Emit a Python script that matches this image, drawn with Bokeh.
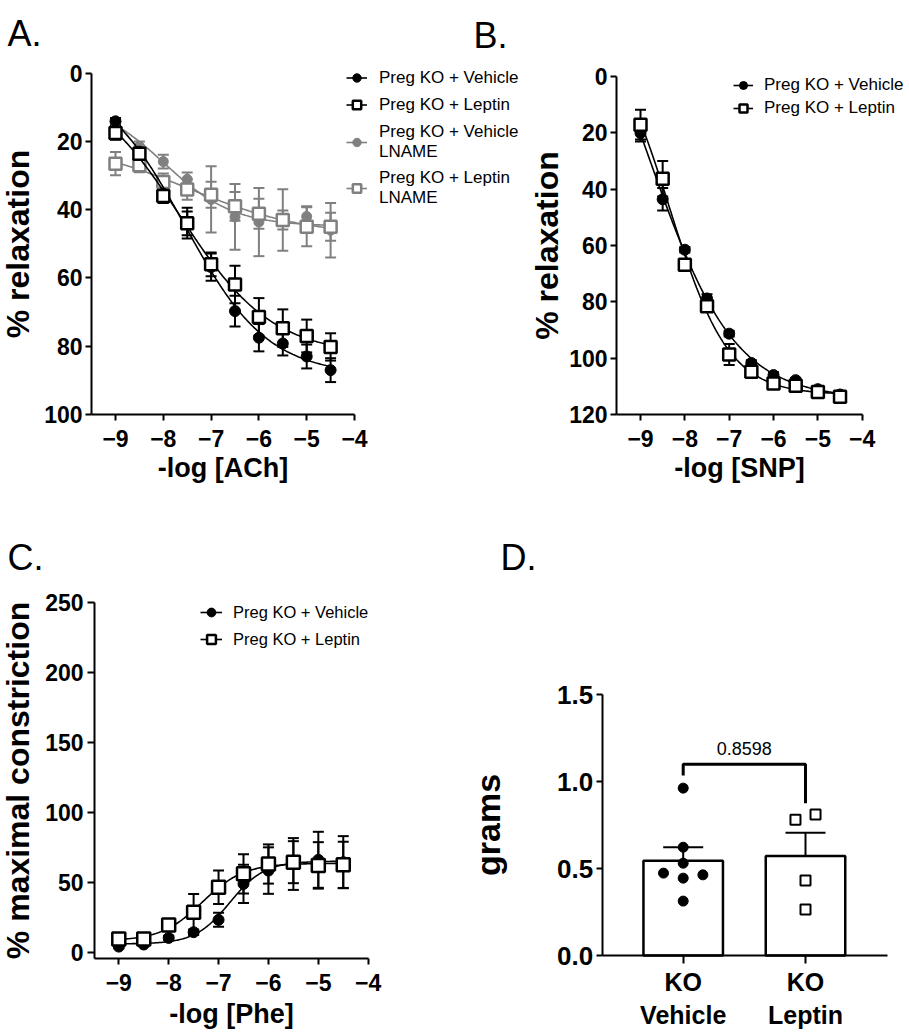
import numpy as np
from bokeh.plotting import figure
from bokeh.models import (Range1d, Whisker, ColumnDataSource, Legend, LegendItem,
                          Label, FixedTicker, TeeHead, NumeralTickFormatter, LinearAxis)
from bokeh.layouts import row, column
from bokeh.embed import file_html
from bokeh.resources import INLINE

# ---------------- data ----------------
log_conc = [-9, -8.5, -8, -7.5, -7, -6.5, -6, -5.5, -5, -4.5]

# Panel A: ACh relaxation
ach_veh = [14.1, 23.0, 35.3, 43.9, 56.8, 69.7, 77.5, 79.2, 83.0, 87.0]
ach_veh_sem = [1.0, 1.5, 1.5, 4.5, 4.0, 4.5, 4.0, 3.5, 3.5, 3.5]
ach_lep = [17.5, 23.6, 36.0, 44.0, 56.0, 61.9, 71.4, 74.7, 77.0, 80.2]
ach_lep_sem = [2.0, 2.0, 2.0, 3.5, 3.5, 5.5, 5.5, 5.5, 4.8, 4.0]
ach_veh_ln = [14.5, 21.5, 25.9, 31.1, 37.0, 42.1, 43.6, 43.0, 42.0, 46.0]
ach_veh_ln_sem = [1.0, 1.5, 2.0, 2.0, 9.7, 9.6, 10.0, 9.0, 3.0, 8.0]
ach_lep_ln = [26.5, 27.0, 31.9, 34.1, 35.6, 39.0, 41.2, 43.0, 45.0, 45.0]
ach_lep_ln_sem = [3.4, 2.0, 2.5, 3.0, 3.8, 4.2, 4.4, 2.8, 5.7, 4.1]

# Panel B: SNP relaxation
snp_veh = [20.1, 43.6, 61.5, 78.8, 91.3, 101.7, 106.0, 107.8, 111.0, 112.9]
snp_veh_sem = [3.0, 4.0, 1.0, 1.5, 1.0, 1.0, 1.0, 0.8, 0.8, 0.8]
snp_lep = [17.1, 36.3, 66.8, 81.6, 98.7, 104.8, 109.0, 109.8, 112.0, 113.7]
snp_lep_sem = [5.3, 6.3, 1.5, 1.5, 3.7, 1.5, 1.0, 1.0, 0.8, 0.8]

# Panel C: Phe constriction
phe_veh = [4.0, 5.5, 10.2, 14.3, 23.1, 48.8, 58.3, 63.0, 66.0, 64.3]
phe_veh_sem = [1.0, 1.0, 1.5, 2.0, 5.0, 13.6, 16.6, 18.5, 20.0, 18.6]
phe_lep = [9.5, 9.5, 19.5, 28.6, 46.4, 56.0, 63.0, 64.3, 62.0, 62.4]
phe_lep_sem = [1.5, 1.5, 3.0, 13.0, 12.0, 14.0, 14.0, 15.0, 16.6, 16.5]

# Panel D: grams
d_labels = ["KO\nVehicle", "KO\nLeptin"]
d_vehicle = [0.963, 0.623, 0.531, 0.474, 0.445, 0.464, 0.313]
d_leptin = [0.781, 0.811, 0.432, 0.265]
p_value_text = "0.8598"
bracket_top = 1.10
bracket_left_end = 1.035
bracket_right_end = 0.876

# scatter arrangement offsets (layout only)
veh_offsets = [0, 0, 0, -0.161, 0, 0.161, 0]
lep_offsets = [-0.082, 0.082, 0, 0]

FONT = "Liberation Sans"
GREY = "#808080"


def fit_4pl(x, y):
    """Four-parameter logistic fit (grid over EC50/Hill, linear for bottom/top)."""
    x = np.asarray(x, float)
    y = np.asarray(y, float)
    ecs = np.linspace(-11, -3, 321)
    hs = np.linspace(0.15, 3.0, 115)
    E, H = np.meshgrid(ecs, hs, indexing="ij")
    S = 1.0 / (1.0 + 10.0 ** ((E[..., None] - x) * H[..., None]))
    Sm = S.mean(-1, keepdims=True)
    ym = y.mean()
    cov = ((S - Sm) * (y - ym)).sum(-1)
    var = ((S - Sm) ** 2).sum(-1)
    d = cov / np.where(var > 1e-10, var, np.nan)
    b = ym - d * Sm[..., 0]
    pred = b[..., None] + d[..., None] * S
    sse = ((pred - y) ** 2).sum(-1)
    sse = np.where(np.isfinite(sse), sse, np.inf)
    i, j = np.unravel_index(np.argmin(sse), sse.shape)
    ec, h, bb, dd = E[i, j], H[i, j], b[i, j], d[i, j]
    return lambda xs: bb + dd / (1.0 + 10.0 ** ((ec - xs) * h))


class Mapper:
    """Pixel <-> data mapping for a figure whose frame fills its canvas."""
    def __init__(self, W, H, xa, xb, ya, yb):
        (self.px0, self.vx0), (px1, vx1) = xa, xb
        (self.py0, self.vy0), (py1, vy1) = ya, yb
        self.kx = (vx1 - self.vx0) / (px1 - self.px0)
        self.ky = (vy1 - self.vy0) / (py1 - self.py0)
        self.W, self.H = W, H

    def x(self, px):
        return self.vx0 + (px - self.px0) * self.kx

    def y(self, py):
        return self.vy0 + (py - self.py0) * self.ky

    def ranges(self):
        return (Range1d(self.x(0), self.x(self.W)),
                Range1d(self.y(self.H), self.y(0)))


def make_fig(m):
    xr, yr = m.ranges()
    p = figure(width=m.W, height=m.H, x_range=xr, y_range=yr,
               output_backend="svg", toolbar_location=None,
               x_axis_location=None, y_axis_location=None,
               min_border=0, min_border_left=0, min_border_right=0,
               min_border_top=0, min_border_bottom=0)
    p.grid.visible = False
    p.outline_line_color = None
    p.background_fill_color = "white"
    p.border_fill_color = "white"
    return p


def style_axis(ax, tick_size, label_size, tick_out, tick_standoff, label_standoff):
    ax.axis_line_width = 2
    ax.axis_line_color = "black"
    ax.major_tick_line_width = 2
    ax.major_tick_line_color = "black"
    ax.major_tick_out = tick_out
    ax.major_tick_in = 0
    ax.minor_tick_line_color = None
    ax.major_label_text_font = FONT
    ax.major_label_text_font_style = "bold"
    ax.major_label_text_font_size = tick_size
    ax.major_label_text_color = "black"
    ax.major_label_standoff = tick_standoff
    ax.axis_label_text_font = FONT
    ax.axis_label_text_font_style = "bold"
    ax.axis_label_text_color = "black"
    ax.axis_label_text_font_size = label_size
    ax.axis_label_standoff = label_standoff


def add_axes(p, m, spine_px, xaxis_py, xbounds, ybounds, xticks, yticks, xlabel, ylabel,
             tick_size="23px", ylab_size="32px", xlab_size="27px", y_lab_standoff=5,
             x_lab_standoff=3, x_tick_standoff=9, y_tick_out=6, y_tick_standoff=3,
             x_tick_out=6):
    xax = LinearAxis(fixed_location=m.y(xaxis_py), bounds=xbounds,
                     ticker=FixedTicker(ticks=xticks), axis_label=xlabel)
    yax = LinearAxis(fixed_location=m.x(spine_px), bounds=ybounds,
                     ticker=FixedTicker(ticks=yticks), axis_label=ylabel)
    style_axis(xax, tick_size, xlab_size, x_tick_out, x_tick_standoff, x_lab_standoff)
    style_axis(yax, tick_size, ylab_size, y_tick_out, y_tick_standoff, y_lab_standoff)
    p.add_layout(xax, "below")
    p.add_layout(yax, "left")
    return xax, yax


def add_series(p, x, y, sem, color, marker, size):
    src = ColumnDataSource(dict(x=x, up=[a + b for a, b in zip(y, sem)],
                                lo=[a - b for a, b in zip(y, sem)]))
    w = Whisker(base="x", upper="up", lower="lo", source=src,
                line_color=color, line_width=2,
                upper_head=TeeHead(size=11, line_color=color, line_width=2),
                lower_head=TeeHead(size=11, line_color=color, line_width=2))
    p.add_layout(w)
    xs = np.linspace(min(x), max(x), 200)
    f = fit_4pl(x, y)
    cr = p.line(xs, f(xs), line_color=color, line_width=1.6)
    if marker == "circle":
        sr = p.scatter(x, y, marker="circle", size=size, fill_color=color,
                       line_color=color, line_width=1)
    else:
        sr = p.scatter(x, y, marker="square", size=size, fill_color="white",
                       line_color=color, line_width=2.5)
    return [cr, sr]


def add_letter(p, m, text, left_px, baseline_py):
    p.add_layout(Label(x=left_px, y=m.H - baseline_py, x_units="screen", y_units="screen",
                       text=text, text_font=FONT, text_font_size="36px",
                       text_baseline="alphabetic", text_align="left", text_color="black"))


def make_legend(m, items, left_px, bottom_py, gw, gh, spacing, standoff, fsize):
    return Legend(items=items, location=(left_px, m.H - bottom_py), glyph_width=gw,
                  glyph_height=gh, spacing=spacing, label_standoff=standoff,
                  padding=0, margin=0, border_line_color=None,
                  background_fill_alpha=0, label_text_font=FONT,
                  label_text_font_size=fsize, label_text_color="black")


conc_ticks = [-9, -8, -7, -6, -5, -4]

# ---------------- Panel A (canvas 0..528 x 0..500) ----------------
mA = Mapper(528, 500, (115, -9), (354, -4), (72.7, 0), (414, 100))
pA = make_fig(mA)
add_axes(pA, mA, 91, 414, (mA.x(91), -4), (0, 100), conc_ticks,
         [0, 20, 40, 60, 80, 100], "-log [ACh]", "% relaxation")
gA3 = add_series(pA, log_conc, ach_veh_ln, ach_veh_ln_sem, GREY, "circle", 10)
gA4 = add_series(pA, log_conc, ach_lep_ln, ach_lep_ln_sem, GREY, "square", 12)
gA1 = add_series(pA, log_conc, ach_veh, ach_veh_sem, "black", "circle", 11)
gA2 = add_series(pA, log_conc, ach_lep, ach_lep_sem, "black", "square", 12)
pA.add_layout(make_legend(mA, [
    LegendItem(label="Preg KO + Vehicle", renderers=gA1),
    LegendItem(label="Preg KO + Leptin", renderers=gA2),
], 346, 115, 21, 21, 6, 12, "17px"))
pA.add_layout(make_legend(mA, [
    LegendItem(label="Preg KO + Vehicle\nLNAME", renderers=gA3),
    LegendItem(label="Preg KO + Leptin\nLNAME", renderers=gA4),
], 346, 208, 21, 40, 6, 12, "17px"))
add_letter(pA, mA, "A.", 7, 33)
add_letter(pA, mA, "B.", 473, 35)

# ---------------- Panel B (canvas 528..909 x 0..500) ----------------
OB = 528
mB = Mapper(909 - OB, 500, (640 - OB, -9), (861.7 - OB, -4), (76, 0), (414, 120))
pB = make_fig(mB)
add_axes(pB, mB, 616 - OB, 414, (mB.x(616 - OB), -4), (0, 120), conc_ticks,
         [0, 20, 40, 60, 80, 100, 120], "-log [SNP]", "% relaxation", y_lab_standoff=1)
gB1 = add_series(pB, log_conc, snp_veh, snp_veh_sem, "black", "circle", 11)
gB2 = add_series(pB, log_conc, snp_lep, snp_lep_sem, "black", "square", 12)
pB.add_layout(make_legend(mB, [
    LegendItem(label="Preg KO + Vehicle", renderers=gB1),
    LegendItem(label="Preg KO + Leptin", renderers=gB2),
], 733 - OB, 118, 20, 20, 3, 11, "17px"))

# ---------------- Panel C (canvas 0..465 x 500..1035) ----------------
mC = Mapper(465, 535, (118.3, -9), (367.7, -4), (451.7, 0), (101.7, 250))
pC = make_fig(mC)
add_axes(pC, mC, 94, 458, (mC.x(94), -4), (mC.y(458), 250), conc_ticks,
         [0, 50, 100, 150, 200, 250], "-log [Phe]", "% maximal constriction",
         y_lab_standoff=6, x_lab_standoff=5, y_tick_out=7, y_tick_standoff=4)
gC1 = add_series(pC, log_conc, phe_veh, phe_veh_sem, "black", "circle", 11)
gC2 = add_series(pC, log_conc, phe_lep, phe_lep_sem, "black", "square", 13)
pC.add_layout(make_legend(mC, [
    LegendItem(label="Preg KO + Vehicle", renderers=gC1),
    LegendItem(label="Preg KO + Leptin", renderers=gC2),
], 200, 150, 22, 22, 5, 11, "16.5px"))
add_letter(pC, mC, "C.", 7, 57)

# ---------------- Panel D (canvas 465..909 x 500..1035) ----------------
OD = 465
mD = Mapper(909 - OD, 535, (682.7 - OD, 0), (805 - OD, 1), (455, 0), (194.3, 1.5))
pD = make_fig(mD)
cats = [0, 1]
xaxD, yaxD = add_axes(pD, mD, 601.7 - OD, 455, (mD.x(601.7 - OD), mD.x(886.7 - OD)),
                      (0, 1.5), cats, [0, 0.5, 1.0, 1.5], "", "grams", tick_size="26px",
                      ylab_size="34px", y_lab_standoff=47, x_tick_out=8,
                      x_tick_standoff=4)
xaxD.major_label_overrides = {0: d_labels[0], 1: d_labels[1]}
xaxD.major_label_text_font_size = "25px"
yaxD.formatter = NumeralTickFormatter(format="0.0")
means = [float(np.mean(d_vehicle)), float(np.mean(d_leptin))]
sems = [float(np.std(d_vehicle, ddof=1) / np.sqrt(len(d_vehicle))),
        float(np.std(d_leptin, ddof=1) / np.sqrt(len(d_leptin)))]
pD.vbar(x=cats, top=means, width=0.65, bottom=0, fill_color="white",
        line_color="black", line_width=2.5)
srcD = ColumnDataSource(dict(x=cats, up=[mm + s for mm, s in zip(means, sems)], lo=means))
pD.add_layout(Whisker(base="x", upper="up", lower="lo", source=srcD,
                      line_color="black", line_width=2,
                      upper_head=TeeHead(size=40, line_color="black", line_width=2),
                      lower_head=None, level="overlay"))
pD.scatter([cats[0] + o for o in veh_offsets], d_vehicle, marker="circle", size=10,
           fill_color="black", line_color="black")
pD.scatter([cats[1] + o for o in lep_offsets], d_leptin, marker="square", size=10,
           fill_color="white", line_color="black", line_width=2)
pD.line([cats[0], cats[0], cats[1], cats[1]],
        [bracket_left_end, bracket_top, bracket_top, bracket_right_end],
        line_color="black", line_width=3)
pD.add_layout(Label(x=0.5, y=1.19, text=p_value_text, text_font=FONT,
                    text_font_size="18px", text_align="center",
                    text_baseline="middle", text_color="black"))
add_letter(pD, mD, "D.", 500 - OD, 557 - 500)

layout = column(row(pA, pB), row(pC, pD))
open("out.html", "w").write(file_html(layout, INLINE))
